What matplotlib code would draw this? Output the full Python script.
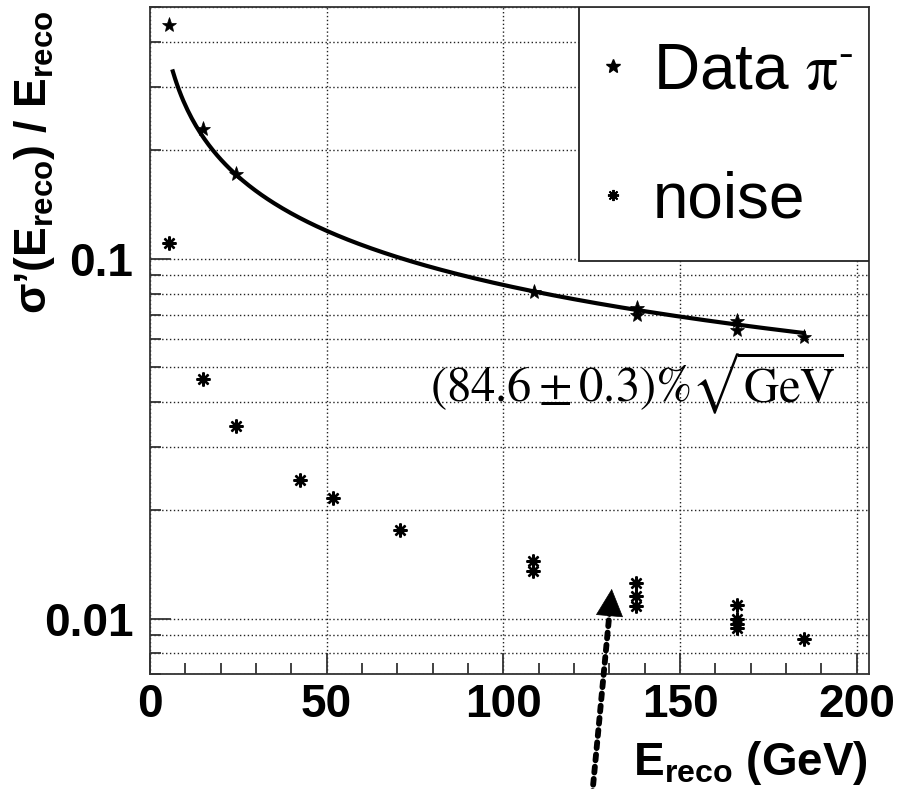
import numpy as np
import matplotlib
matplotlib.use("Agg")
import matplotlib.pyplot as plt
from matplotlib.ticker import LogLocator, MultipleLocator, NullFormatter
from matplotlib.patches import Rectangle

plt.rcParams['font.family'] = ['Liberation Sans', 'DejaVu Sans']
plt.rcParams['mathtext.fontset'] = 'custom'
plt.rcParams['mathtext.rm'] = 'Liberation Sans:bold'
plt.rcParams['mathtext.it'] = 'Liberation Sans:bold'
plt.rcParams['mathtext.bf'] = 'Liberation Sans:bold'

# data pi- resolution points
data_e = [5.4, 15.1, 24.3, 108.8, 137.7, 137.7, 166.2, 166.2, 185.1]
data_res = [0.447, 0.229, 0.172, 0.0808, 0.0732, 0.0699, 0.0670, 0.0635, 0.0606]

# noise contribution
noise_e = [5.4, 15.1, 24.3, 42.5, 51.7, 70.8, 108.5, 108.5,
           137.5, 137.5, 137.5, 166.2, 166.2, 166.2, 166.2, 185.1]
noise_res = [0.1106, 0.0464, 0.0342, 0.0242, 0.0216, 0.01767, 0.01449, 0.01353,
             0.01257, 0.01153, 0.01082, 0.01094, 0.00994, 0.00968, 0.00942, 0.00875]

# stochastic term of the fit, sigma/E = a / sqrt(E)
fit_a = 0.846
fit_range = (6.5, 185.0)

fig = plt.figure(figsize=(8.99, 7.89), dpi=100)
ax = fig.add_axes([0.1667, 0.1454, 0.7996, 0.8453])

grid_style = dict(color='#222222', linestyle=(0, (1, 1.8)), linewidth=1.0)
ax.grid(which='both', axis='y', **grid_style)
ax.grid(which='major', axis='x', **grid_style)
ax.set_axisbelow(True)

e_fit = np.linspace(fit_range[0], fit_range[1], 300)
ax.plot(e_fit, fit_a / np.sqrt(e_fit), color='black', lw=3.0, zorder=3)

ax.plot(data_e, data_res, linestyle='none', marker='*', ms=11, color='black',
        markeredgewidth=0.5, zorder=4)
ax.plot(noise_e, noise_res, linestyle='none', marker=(8, 2, 0), ms=10, color='black',
        markeredgewidth=1.7, zorder=4)

ax.set_yscale('log')
ax.set_xlim(0, 203.4)
ax.set_ylim(0.007, 0.5)
ax.set_xticks([0, 50, 100, 150, 200])
ax.xaxis.set_minor_locator(MultipleLocator(10))
ax.set_yticks([0.01, 0.1], ['0.01', '0.1'])
ax.yaxis.set_minor_locator(LogLocator(base=10, subs=np.arange(2, 10)))
ax.yaxis.set_minor_formatter(NullFormatter())

for lab in ax.get_xticklabels() + ax.get_yticklabels():
    lab.set_fontsize(33)
    lab.set_fontweight('bold')
ax.tick_params(which='both', direction='in', color='#333333', width=1.3)
ax.tick_params(which='major', length=15)
ax.tick_params(which='minor', length=8)
ax.tick_params(axis='x', pad=6)
ax.tick_params(axis='y', pad=12)
for s in ax.spines.values():
    s.set_linewidth(1.3)
    s.set_color('#333333')

# fit result
ax.text(79.3, 0.0398, r'$(84.6 \pm 0.3)\%\sqrt{\mathrm{GeV}}$', fontsize=35,
        math_fontfamily='stix', ha='left', va='baseline', zorder=5)

# legend box drawn by hand to match the ROOT style
ax.add_patch(Rectangle((0.5974, 0.6197), 0.4026, 0.3803, transform=ax.transAxes,
                       facecolor='white', edgecolor='#222222', lw=1.3, zorder=6))
ax.plot([0.6443], [0.912], transform=ax.transAxes, marker='*', ms=10, color='black',
        linestyle='none', zorder=7, clip_on=False)
ax.plot([0.6443], [0.7186], transform=ax.transAxes, marker=(8, 2, 0), ms=8,
        color='black', markeredgewidth=1.4, linestyle='none', zorder=7, clip_on=False)
ax.text(0.700, 0.8775, r'Data $\mathrm{\pi}^{\text{-}}$', transform=ax.transAxes,
        fontsize=46, math_fontfamily='stix', ha='left', va='baseline', zorder=7)
ax.text(0.700, 0.6856, 'noise', transform=ax.transAxes, fontsize=46,
        ha='left', va='baseline', zorder=7)

# dotted arrow coming up from below the frame
arrow_tip = (130.7, 0.01209)
ax.annotate('', xy=arrow_tip, xytext=(592 / 899, -0.01), xycoords='data',
            textcoords='figure fraction', annotation_clip=False,
            arrowprops=dict(arrowstyle='-', color='black', lw=4.2,
                            linestyle=(0, (1, 1.1)), shrinkA=0, shrinkB=8))
ax.annotate('', xy=arrow_tip, xytext=(-1.7, -20), xycoords='data',
            textcoords='offset points', annotation_clip=False,
            arrowprops=dict(arrowstyle='-|>,head_length=0.4,head_width=0.2',
                            mutation_scale=47, color='black', lw=0.5,
                            shrinkA=0, shrinkB=0))

fig.text(868 / 899, (789 - 775) / 789, r'E$_{\mathrm{reco}}$ (GeV)', fontsize=33,
         fontweight='bold', ha='right', va='baseline')
fig.text(57 / 899, 1 - 11 / 789, r'σ’(E$_{\mathrm{reco}}$) / E$_{\mathrm{reco}}$',
         fontsize=32, fontweight='bold', rotation=90, ha='right', va='top')

fig.savefig('out.png', dpi=100)
